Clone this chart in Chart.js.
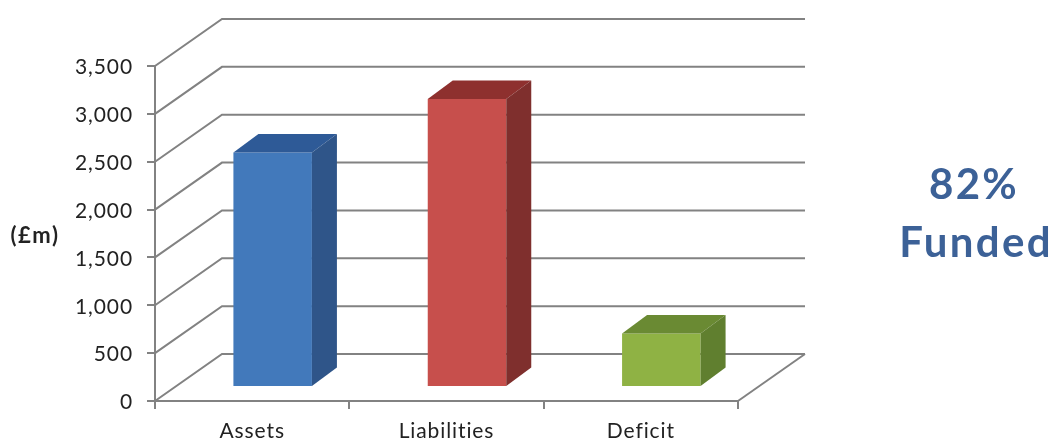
<!DOCTYPE html>
<html>
<head>
<meta charset="utf-8">
<style>
html,body{margin:0;padding:0;background:#fff;width:1054px;height:439px;overflow:hidden}
canvas{position:absolute;left:0;top:0}
.t{position:absolute;font-family:Lato,sans-serif;font-weight:700;white-space:nowrap;text-align:center}
#unit{left:8px;top:221px;font-size:22px;letter-spacing:1.5px;color:#222;width:54px}
.big{color:#3c6197;font-size:42px;letter-spacing:2.3px;width:154px;left:899px;line-height:48px}
#pct{top:159px;left:897px}
#fund{top:217px}
</style>
<script src="https://cdn.jsdelivr.net/npm/chart.js@4"></script>
</head>
<body>
<canvas id="c" width="1054" height="439"></canvas>
<div class="t" id="unit">(£m)</div>
<div class="t big" id="pct">82%</div>
<div class="t big" id="fund">Funded</div>
<script>
const categories = ["Assets", "Liabilities", "Deficit"];
const amounts = [2450, 3010, 560];
const frontColors = ["#4279bb", "#c74f4c", "#8fb244"];
const sideColors = ["#2f5589", "#7f2f2d", "#607f2f"];
const topColors = ["#2e5a97", "#8e302e", "#6a8a33"];
const axisMax = 3500;
const axisStep = 500;
const gridColor = "#828282";
const wall = {dx: 67, dy: 47};
const barShift = {dx: 20.5, dy: 14};
const barDepth = {dx: 25, dy: 18.5};

const textSpacing = {
  id: "textSpacing",
  beforeDraw(chart) { chart.ctx.letterSpacing = "0.9px"; }
};

const walls = {
  id: "walls",
  beforeDatasetsDraw(chart) {
    const {ctx, chartArea: a, scales: {y}} = chart;
    ctx.save();
    ctx.strokeStyle = gridColor;
    ctx.lineWidth = 2;
    y.ticks.forEach(t => {
      const py = y.getPixelForValue(t.value);
      ctx.beginPath();
      ctx.moveTo(a.left, py);
      ctx.lineTo(a.left + wall.dx, py - wall.dy);
      ctx.lineTo(a.right + wall.dx, py - wall.dy);
      ctx.stroke();
    });
    const b = y.getPixelForValue(0);
    ctx.beginPath();
    ctx.moveTo(a.right, b);
    ctx.lineTo(a.right + wall.dx, b - wall.dy);
    ctx.stroke();
    ctx.restore();
  }
};

const bars3d = {
  id: "bars3d",
  beforeDatasetDraw(chart) {
    chart.ctx.save();
    chart.ctx.translate(barShift.dx, -barShift.dy);
  },
  afterDatasetDraw(chart, args) {
    const ctx = chart.ctx;
    args.meta.data.forEach((el, i) => {
      const {x, y, base, width} = el.getProps(["x", "y", "base", "width"], true);
      const l = x - width / 2, r = x + width / 2;
      const {dx, dy} = barDepth;
      ctx.fillStyle = topColors[i];
      ctx.beginPath();
      ctx.moveTo(l, y); ctx.lineTo(l + dx, y - dy); ctx.lineTo(r + dx, y - dy); ctx.lineTo(r, y);
      ctx.closePath(); ctx.fill();
      ctx.fillStyle = sideColors[i];
      ctx.beginPath();
      ctx.moveTo(r, y); ctx.lineTo(r + dx, y - dy); ctx.lineTo(r + dx, base - dy); ctx.lineTo(r, base);
      ctx.closePath(); ctx.fill();
    });
    ctx.restore();
  }
};

new Chart(document.getElementById("c"), {
  type: "bar",
  data: {
    labels: categories,
    datasets: [{
      data: amounts,
      backgroundColor: frontColors,
      borderWidth: 0,
      categoryPercentage: 1,
      barPercentage: 0.404,
      clip: false
    }]
  },
  options: {
    responsive: false,
    animation: false,
    devicePixelRatio: 1,
    layout: {padding: {left: 0, right: 316, top: 66, bottom: 0}},
    plugins: {legend: {display: false}, title: {display: false}, tooltip: {enabled: false}},
    scales: {
      x: {
        grid: {drawOnChartArea: false, drawTicks: true, tickLength: 8, color: gridColor, lineWidth: 2},
        border: {color: gridColor, width: 2},
        ticks: {color: "#222", font: {family: "Lato", size: 21}, padding: 10, maxRotation: 0},
        afterFit(s) { s.height = 38; }
      },
      y: {
        min: 0,
        max: axisMax,
        grid: {drawOnChartArea: false, drawTicks: true, tickLength: 8, color: gridColor, lineWidth: 2},
        border: {color: gridColor, width: 2},
        ticks: {
          stepSize: axisStep,
          color: "#222",
          font: {family: "Lato", size: 21},
          padding: 14,
          labelOffset: 1.5,
          callback: v => v.toLocaleString("en-GB")
        },
        afterFit(s) { s.width = 155; }
      }
    }
  },
  plugins: [textSpacing, walls, bars3d]
});
</script>
</body>
</html>
